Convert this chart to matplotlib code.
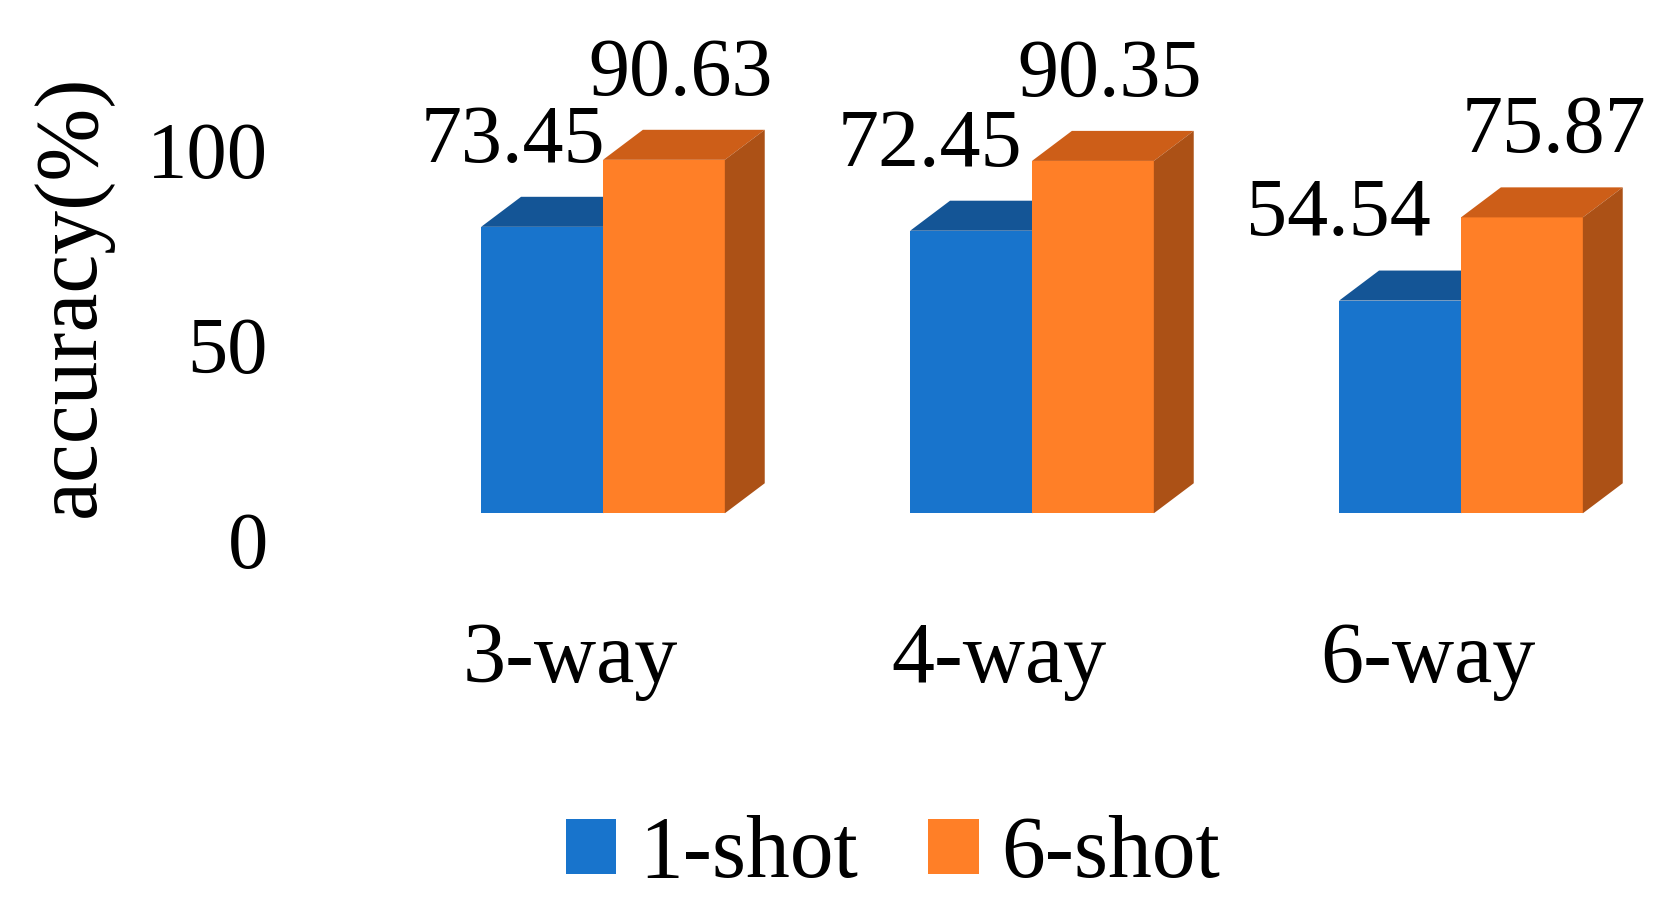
import numpy as np
import matplotlib
matplotlib.use('Agg')
import matplotlib.pyplot as plt
from matplotlib.patches import Polygon

plt.rcParams['font.family'] = ['Liberation Serif', 'DejaVu Serif']

# data
categories = ['3-way', '4-way', '6-way']
series_names = ['1-shot', '6-shot']
one_shot = [73.45, 72.45, 54.54]
six_shot = [90.63, 90.35, 75.87]
y_ticks = [0, 50, 100]

# colours: front, top, side
blue = ('#1874CC', '#145596', '#10487F')
orange = ('#FF7F27', '#CD5E18', '#AC5116')

# 3d look
bar_w = 0.284      # x units
depth_x = 0.093    # x units
depth_y = 7.7      # y units
floor = 6.85       # front face sits a bit above the tick zero
label_gap = 16.7
lbl_shift = {0: [-0.068, -0.096, -0.143], 1: [0.040, 0.040, 0.075]}

W, H = 1669, 915
fig = plt.figure(figsize=(W / 100, H / 100), dpi=100)
ax = fig.add_axes([300 / W, 375 / H, (W - 300) / W, 507 / H])
ax.set_xlim(-(603 - 300) / 429, (W - 603) / 429)
ax.set_ylim(0, 130)

x = np.arange(len(categories))
handles = []
for s, (vals, cols) in enumerate([(one_shot, blue), (six_shot, orange)]):
    left = x - bar_w + s * bar_w
    z = 2 + s
    b = ax.bar(left, vals, width=bar_w, bottom=floor, align='edge',
               color=cols[0], linewidth=0, zorder=z, label=series_names[s])
    handles.append(b)
    for i, v in enumerate(vals):
        x0, x1 = left[i], left[i] + bar_w
        top = floor + v
        # top face
        ax.add_patch(Polygon([(x0, top), (x0 + depth_x, top + depth_y),
                              (x1 + depth_x, top + depth_y), (x1, top)],
                             closed=True, facecolor=cols[1], linewidth=0,
                             zorder=z, clip_on=False))
        # right side face
        ax.add_patch(Polygon([(x1, floor), (x1 + depth_x, floor + depth_y),
                              (x1 + depth_x, top + depth_y), (x1, top)],
                             closed=True, facecolor=cols[2], linewidth=0,
                             zorder=z, clip_on=False))
        ax.text(x0 + bar_w / 2 + lbl_shift[s][i], top + label_gap, f'{v:.2f}',
                ha='center', va='baseline', fontsize=59, zorder=5)

for i, c in enumerate(categories):
    ax.text(i - 0.077, -36.3, c, ha='center', va='baseline', fontsize=62)

ax.set_yticks(y_ticks)
ax.set_yticklabels([str(t) for t in y_ticks])
ax.tick_params(axis='y', length=0, pad=23, labelsize=58)
ax.set_xticks([])
for sp in ax.spines.values():
    sp.set_visible(False)

ax.set_ylabel('accuracy(%)', fontsize=63)
ax.yaxis.set_label_coords((113 - 300) / (W - 300), (915 - 296 - 375) / 507)

fig.legend(handles=handles, labels=series_names, loc='center',
           bbox_to_anchor=(893 / W, 1 - 856 / H), ncol=2, frameon=False,
           fontsize=63, handlelength=0.58, handleheight=0.58,
           handletextpad=0.26, columnspacing=0.8, borderpad=0)

fig.savefig('out.png', dpi=100)
